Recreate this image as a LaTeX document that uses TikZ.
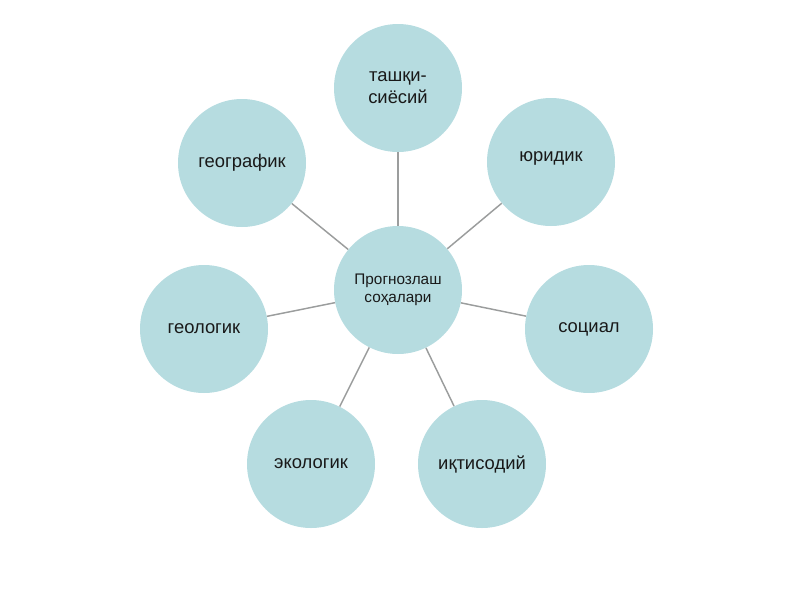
\documentclass[tikz,border=0pt]{standalone}
\usepackage{fontspec}
\setmainfont{Liberation Sans}
\definecolor{bubble}{RGB}{182,220,224}
\definecolor{spoke}{RGB}{155,157,157}
\begin{document}
\begin{tikzpicture}[x=0.75pt,y=-0.75pt,
		area/.style={circle,fill=bubble,minimum size=96pt,inner sep=0pt,align=center,font=\fontsize{13.8}{16.5}\selectfont,text=black!90},
		hub/.style={area,font=\fontsize{11.5}{13.5}\selectfont},
		spokeline/.style={spoke,line width=1.1pt}]
		\useasboundingbox (0,0) rectangle (800,600);
		\node[hub] (hub) at (398,290) {Прогнозлаш\\соҳалари};
		\node[area] (tashqi) at (398,88) {ташқи-\\сиёсий};
		\node[area] (yuridik) at (551,162) {\raisebox{8pt}{юридик}};
		\node[area] (sotsial) at (589,329) {социал};
		\node[area] (iqtisod) at (482,464) {иқтисодий};
		\node[area] (ekolog) at (311,464) {экологик};
		\node[area] (geolog) at (204,329) {геологик};
		\node[area] (geograf) at (242,163) {географик};
		\foreach \n in {tashqi,yuridik,sotsial,iqtisod,ekolog,geolog,geograf}
		\draw[spokeline] (hub) -- (\n);
		\end{tikzpicture}
\end{document}
